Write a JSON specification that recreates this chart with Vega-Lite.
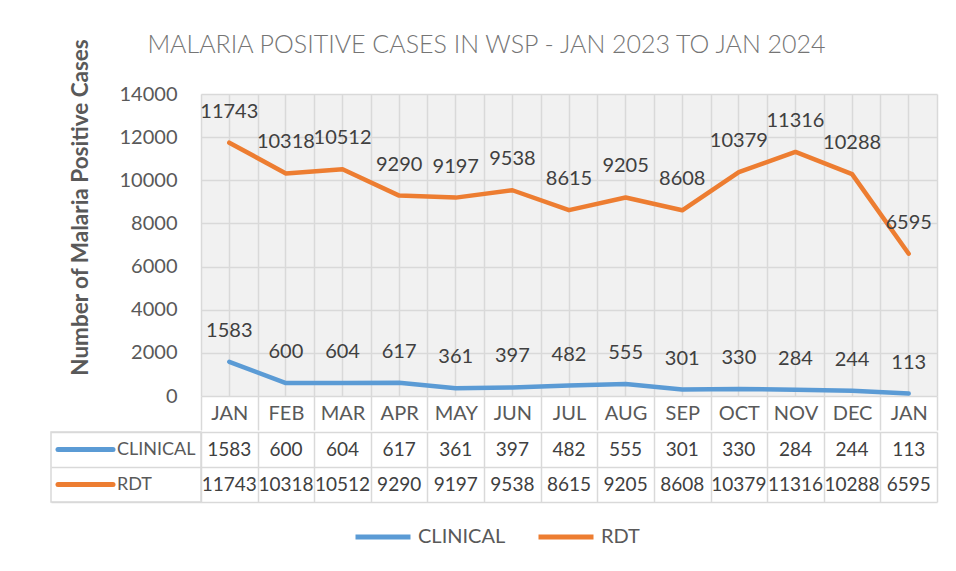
{
  "$schema": "https://vega.github.io/schema/vega-lite/v6.json",
  "background": "white",
  "padding": {"left": 47, "top": 33, "right": 10, "bottom": 5},
  "config": {"font": "Lato", "view": {"stroke": null}},
  "title": {"text": "MALARIA POSITIVE CASES IN WSP - JAN 2023 TO JAN 2024", "fontSize": 25, "fontWeight": 300, "color": "#757575", "anchor": "middle", "offset": -20, "dx": -6},
  "datasets": {
    "cases": [
      {"month": "JAN 2023", "series": "CLINICAL", "value": 1583},
      {"month": "FEB 2023", "series": "CLINICAL", "value": 600},
      {"month": "MAR 2023", "series": "CLINICAL", "value": 604},
      {"month": "APR 2023", "series": "CLINICAL", "value": 617},
      {"month": "MAY 2023", "series": "CLINICAL", "value": 361},
      {"month": "JUN 2023", "series": "CLINICAL", "value": 397},
      {"month": "JUL 2023", "series": "CLINICAL", "value": 482},
      {"month": "AUG 2023", "series": "CLINICAL", "value": 555},
      {"month": "SEP 2023", "series": "CLINICAL", "value": 301},
      {"month": "OCT 2023", "series": "CLINICAL", "value": 330},
      {"month": "NOV 2023", "series": "CLINICAL", "value": 284},
      {"month": "DEC 2023", "series": "CLINICAL", "value": 244},
      {"month": "JAN 2024", "series": "CLINICAL", "value": 113},
      {"month": "JAN 2023", "series": "RDT", "value": 11743},
      {"month": "FEB 2023", "series": "RDT", "value": 10318},
      {"month": "MAR 2023", "series": "RDT", "value": 10512},
      {"month": "APR 2023", "series": "RDT", "value": 9290},
      {"month": "MAY 2023", "series": "RDT", "value": 9197},
      {"month": "JUN 2023", "series": "RDT", "value": 9538},
      {"month": "JUL 2023", "series": "RDT", "value": 8615},
      {"month": "AUG 2023", "series": "RDT", "value": 9205},
      {"month": "SEP 2023", "series": "RDT", "value": 8608},
      {"month": "OCT 2023", "series": "RDT", "value": 10379},
      {"month": "NOV 2023", "series": "RDT", "value": 11316},
      {"month": "DEC 2023", "series": "RDT", "value": 10288},
      {"month": "JAN 2024", "series": "RDT", "value": 6595}
    ]
  },
  "data": {"name": "cases"},
  "spacing": 0,
  "bounds": "full",
  "resolve": {"scale": {"color": "independent", "x": "independent", "y": "independent"}, "legend": {"color": "independent"}},
  "vconcat": [
    {
      "spacing": 0,
      "bounds": "flush",
      "resolve": {"scale": {"color": "independent", "x": "independent", "y": "independent"}, "legend": {"color": "independent"}},
      "hconcat": [
        {
          "width": 150,
          "height": 302,
          "view": {"stroke": "white", "fill": "white"},
          "data": {"values": []},
          "mark": "rect"
        },
        {
          "width": 736,
          "height": 302,
          "view": {"fill": "#f1f1f1", "stroke": null},
          "encoding": {
            "x": {
              "field": "month", "type": "nominal", "sort": null,
              "scale": {"type": "band", "paddingInner": 0, "paddingOuter": 0,
                "domain": ["JAN 2023", "FEB 2023", "MAR 2023", "APR 2023", "MAY 2023", "JUN 2023", "JUL 2023", "AUG 2023", "SEP 2023", "OCT 2023", "NOV 2023", "DEC 2023", "JAN 2024"]},
              "axis": {"orient": "bottom", "title": null, "grid": true, "tickBand": "extent", "gridColor": "#d9d9d9", "gridWidth": 1.5,
                "ticks": true, "tickSize": 34, "tickColor": "#d9d9d9", "tickWidth": 1.5, "domain": false,
                "labelExpr": "slice(datum.label, 0, 3)", "labelAngle": 0, "labelFontSize": 20, "labelColor": "#595959",
                "labelBaseline": "middle", "labelPadding": -17, "labelOverlap": false, "labelFlush": false}
            },
            "y": {
              "field": "value", "type": "quantitative",
              "scale": {"domain": [0, 14000], "nice": false},
              "axis": {"values": [0, 2000, 4000, 6000, 8000, 10000, 12000, 14000], "format": "d", "grid": true, "gridColor": "#d9d9d9", "gridWidth": 1.5,
                "ticks": false, "domain": false, "labelFontSize": 20, "labelColor": "#595959", "labelPadding": 24,
                "title": "Number of Malaria Positive Cases", "titleFontSize": 22.5, "titleFontWeight": "bold", "titleColor": "#595959",
                "titleX": -121, "titleY": 113, "titleBaseline": "middle", "titleAlign": "center", "titleAngle": -90}
            }
          },
          "layer": [
            {
              "mark": {"type": "line", "strokeWidth": 4.5, "strokeCap": "round", "strokeJoin": "round"},
              "encoding": {
                "color": {"field": "series", "type": "nominal",
                  "scale": {"domain": ["CLINICAL", "RDT"], "range": ["#5B9BD5", "#ED7D31"]},
                  "legend": null}
              }
            },
            {
              "mark": {"type": "text", "dy": -31, "fontSize": 20, "color": "#404040"},
              "encoding": {
                "text": {"field": "value", "type": "quantitative", "format": "d"},
                "x": {
                  "field": "month", "type": "nominal", "sort": null,
                  "scale": {"type": "band", "paddingInner": 0, "paddingOuter": 0,
                    "domain": ["JAN 2023", "FEB 2023", "MAR 2023", "APR 2023", "MAY 2023", "JUN 2023", "JUL 2023", "AUG 2023", "SEP 2023", "OCT 2023", "NOV 2023", "DEC 2023", "JAN 2024"]},
                  "axis": {"orient": "top", "title": null, "grid": true, "gridColor": "#d9d9d9", "gridWidth": 1.5, "labels": false, "ticks": false, "domain": false}
                }
              }
            }
          ],
          "resolve": {"axis": {"x": "independent"}}
        }
      ]
    },
    {
      "spacing": 0,
      "bounds": "flush",
      "resolve": {"scale": {"color": "independent", "x": "independent", "y": "independent"}, "legend": {"color": "independent"}},
      "hconcat": [
        {
          "width": 150,
          "height": 70,
          "view": {"stroke": "#d9d9d9", "strokeWidth": 1.5},
          "transform": [{"filter": "datum.month == 'JAN 2023'"}],
          "encoding": {
            "y": {"field": "series", "type": "nominal",
              "scale": {"type": "band", "domain": ["CLINICAL", "RDT"], "paddingInner": 0, "paddingOuter": 0},
              "axis": {"grid": true, "tickBand": "extent", "gridColor": "#d9d9d9", "gridWidth": 1.5, "labels": false, "ticks": false, "domain": false, "title": null}}
          },
          "layer": [
            {
              "mark": {"type": "point", "shape": "stroke", "size": 3025, "strokeWidth": 5, "strokeCap": "round", "filled": false, "opacity": 1, "xOffset": -40.5},
              "encoding": {
                "color": {"field": "series", "type": "nominal",
                  "scale": {"domain": ["CLINICAL", "RDT"], "range": ["#5B9BD5", "#ED7D31"]},
                  "legend": {"orient": "none", "direction": "horizontal", "legendX": 302, "legendY": 75, "title": null,
                    "symbolType": "stroke", "symbolSize": 3025, "symbolStrokeWidth": 5, "labelFontSize": 20, "labelColor": "#595959",
                    "labelOffset": 5, "columnPadding": 22}}
              }
            },
            {
              "mark": {"type": "text", "align": "left", "dx": -9, "fontSize": 18, "color": "#595959"},
              "encoding": {"text": {"field": "series", "type": "nominal"}}
            }
          ]
        },
        {
          "width": 736,
          "height": 70,
          "encoding": {
            "x": {
              "field": "month", "type": "nominal", "sort": null,
              "scale": {"type": "band", "paddingInner": 0, "paddingOuter": 0,
                "domain": ["JAN 2023", "FEB 2023", "MAR 2023", "APR 2023", "MAY 2023", "JUN 2023", "JUL 2023", "AUG 2023", "SEP 2023", "OCT 2023", "NOV 2023", "DEC 2023", "JAN 2024"]},
              "axis": {"grid": true, "tickBand": "extent", "gridColor": "#d9d9d9", "gridWidth": 1.5, "labels": false, "ticks": false, "domain": false, "title": null}
            },
            "y": {"field": "series", "type": "nominal",
              "scale": {"type": "band", "domain": ["CLINICAL", "RDT"], "paddingInner": 0, "paddingOuter": 0},
              "axis": {"grid": true, "tickBand": "extent", "gridColor": "#d9d9d9", "gridWidth": 1.5, "labels": false, "ticks": false, "domain": false, "title": null}},
            "text": {"field": "value", "type": "quantitative", "format": "d"}
          },
          "mark": {"type": "text", "fontSize": 19, "color": "#404040"}
        }
      ]
    }
  ]
}
